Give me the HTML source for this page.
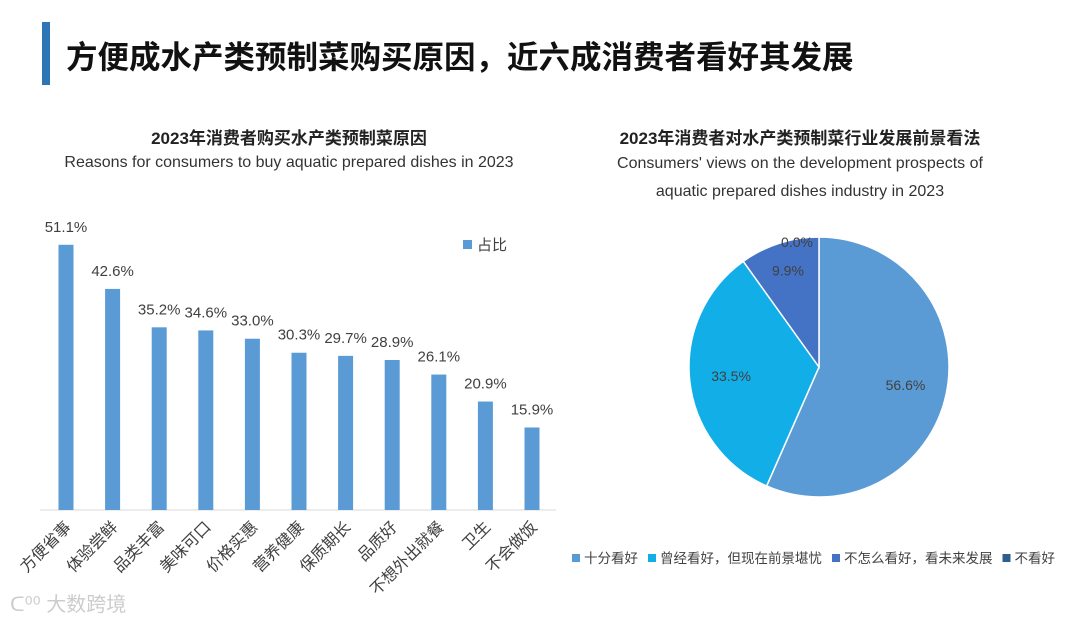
<!DOCTYPE html>
<html><head><meta charset="utf-8">
<style>
body{margin:0;width:1080px;height:621px;background:#fff;overflow:hidden;font-family:"Liberation Sans","Noto Sans CJK SC",sans-serif;position:relative}
.t{position:absolute;white-space:nowrap}
</style></head><body>
<div style="position:absolute;left:42px;top:22px;width:8px;height:63px;background:#2e75b6"></div>
<div class="t" style="left:66px;top:32px;font-size:31.5px;font-weight:bold;color:#111">方便成水产类预制菜购买原因，近六成消费者看好其发展</div>
<div class="t" style="left:0;width:578px;text-align:center;top:124px;font-size:17px;font-weight:bold;color:#222">2023年消费者购买水产类预制菜原因</div>
<div class="t" style="left:0;width:578px;text-align:center;top:154px;font-size:16px;color:#333">Reasons for consumers to buy aquatic prepared dishes in 2023</div>
<div class="t" style="left:540px;width:520px;text-align:center;top:124px;font-size:17px;font-weight:bold;color:#222">2023年消费者对水产类预制菜行业发展前景看法</div>
<div class="t" style="left:540px;width:520px;text-align:center;top:150px;font-size:16px;color:#333;line-height:28px;white-space:normal">Consumers' views on the development prospects of<br>aquatic prepared dishes industry in 2023</div>
<svg id="c" width="1080" height="621" style="position:absolute;left:0;top:0" font-family="Liberation Sans, Noto Sans CJK SC, sans-serif"></svg>
<div class="t" style="left:10px;top:588px;font-size:20px;color:#ccc">ᑕ⁰⁰ 大数跨境</div>
<script>
const categories=["方便省事","体验尝鲜","品类丰富","美味可口","价格实惠","营养健康","保质期长","品质好","不想外出就餐","卫生","不会做饭"];
const values=[51.1,42.6,35.2,34.6,33.0,30.3,29.7,28.9,26.1,20.9,15.9];
const pieLabels=["十分看好","曾经看好，但现在前景堪忧","不怎么看好，看未来发展","不看好"];
const pieValues=[56.6,33.5,9.9,0.0];
const pieColors=["#5b9bd5","#12aee8","#4472c4","#2f5d8f"];
const NS="http://www.w3.org/2000/svg",svg=document.getElementById('c');
function mk(t,a,p){const e=document.createElementNS(NS,t);for(const k in a)e.setAttribute(k,a[k]);(p||svg).appendChild(e);return e;}
const base=510,scale=5.19,x0=66,step=46.6;
const xs=i=>x0+i*step, ys=v=>base-v*scale;
const ax=mk('line',{x1:40,x2:556,y1:base,y2:base,stroke:'#d9d9d9'});


values.forEach((v,i)=>{
 const r=mk('rect',{x:xs(i)-7.5,y:ys(v),width:15,height:v*scale,fill:'#5b9bd5'});
 
 
 const l=mk('text',{x:xs(i),y:ys(v)-13,'text-anchor':'middle','font-size':15,fill:'#404040'});l.textContent=v.toFixed(1)+'%';
 
 
 const c=mk('text',{x:xs(i)+6,y:base+18,'text-anchor':'end','font-size':16,fill:'#404040',transform:`rotate(-45 ${xs(i)+6} ${base+18})`});c.textContent=categories[i];
 
 
});
const lg=mk('rect',{x:463,y:240,width:9,height:9,fill:'#5b9bd5'});


const lt=mk('text',{x:477,y:250,'font-size':15,fill:'#404040'});lt.textContent='占比';


const cx=819,cy=367,R=130;
const tot=pieValues.reduce((a,b)=>a+b,0);
let a0=0;
const pos=(a,r)=>[cx+r*Math.sin(a),cy-r*Math.cos(a)];
pieValues.forEach((v,i)=>{
 const a1=a0+v/tot*2*Math.PI;
 if(v>0){const [x1,y1]=pos(a0,R),[x2,y2]=pos(a1,R);
 const p=mk('path',{d:`M${cx},${cy}L${x1},${y1}A${R},${R} 0 ${a1-a0>Math.PI?1:0} 1 ${x2},${y2}Z`,fill:pieColors[i],stroke:'#fff','stroke-width':1.5});
 
 }
 const m=(a0+a1)/2;let [lx,ly]=pos(m,v>5&&v<20?R*0.78:R*0.68);
 if(v===0){lx=cx-22;ly=cy-125;}
 const t=mk('text',{x:lx,y:ly+5,'text-anchor':'middle','font-size':14,fill:'#404040'});t.textContent=v.toFixed(1)+'%';
 
 
 a0=a1;
});
let lx=572;
pieLabels.forEach((s,i)=>{
 const r=mk('rect',{x:lx,y:554,width:8,height:8,fill:pieColors[i]});
 
 
 const t=mk('text',{x:lx+12,y:563,'font-size':13.5,fill:'#404040'});t.textContent=s;
 
 
 lx+=12+t.getComputedTextLength()+10;
});
</script>
</body></html>
